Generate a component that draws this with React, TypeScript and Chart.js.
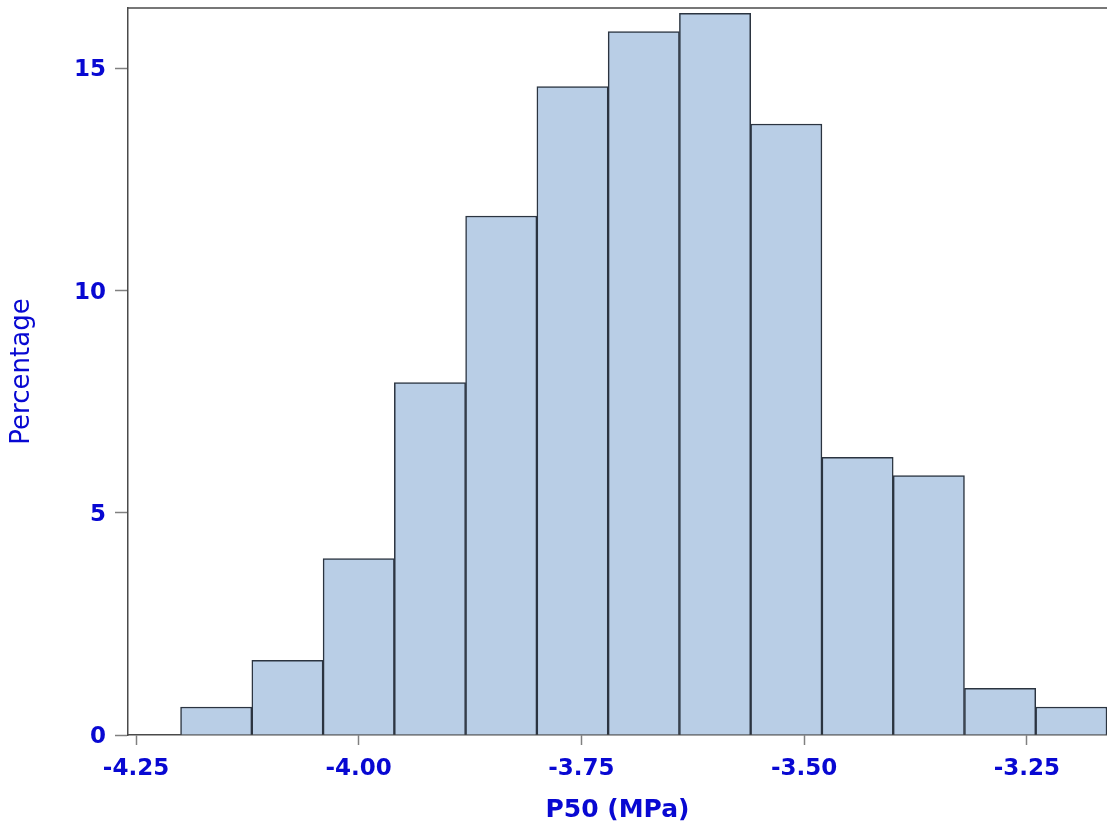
import React, { useEffect, useRef } from 'react';
import { Chart, registerables } from 'chart.js';

Chart.register(...registerables);

// Histogram bins (centres of 0.08-wide bins from -4.20 to -3.16)
const binCenters = [-4.16, -4.08, -4.0, -3.92, -3.84, -3.76, -3.68, -3.6, -3.52, -3.44, -3.36, -3.28, -3.2];
const percentages = [0.63, 1.68, 3.97, 7.93, 11.68, 14.59, 15.83, 16.24, 13.75, 6.25, 5.84, 1.05, 0.63];
const xTicks = [-4.25, -4.0, -3.75, -3.5, -3.25];
const yTicks = [0, 5, 10, 15];
const xTitle = 'P50 (MPa)';
const yTitle = 'Percentage';

const TEXT_BLUE = 'rgb(8,8,210)';
const AXIS_GRAY = '#4a4a4a';
const TICK_GRAY = '#808080';

const framePlugin = {
  id: 'frameTop',
  afterDraw(chart: any) {
    const { ctx, chartArea: a } = chart;
    ctx.save();
    ctx.strokeStyle = AXIS_GRAY;
    ctx.lineWidth = 1.5;
    ctx.beginPath();
    ctx.moveTo(a.left, a.top);
    ctx.lineTo(a.right, a.top);
    ctx.stroke();
    ctx.restore();
  },
};

export default function App() {
  const ref = useRef<HTMLCanvasElement | null>(null);

  useEffect(() => {
    if (!ref.current) return;
    const chart = new Chart(ref.current, {
      type: 'bar',
      data: {
        datasets: [
          {
            data: binCenters.map((x, i) => ({ x, y: percentages[i] })),
            backgroundColor: 'rgb(185,206,230)',
            borderColor: '#2b3440',
            borderWidth: 1.5,
            barPercentage: 1,
            categoryPercentage: 1,
          },
        ],
      },
      options: {
        animation: false,
        responsive: false,
        maintainAspectRatio: false,
        layout: { padding: { top: 8, right: 0, left: 0, bottom: 0 } },
        plugins: { legend: { display: false }, tooltip: { enabled: false } },
        scales: {
          x: {
            type: 'linear',
            offset: false,
            min: -4.259,
            max: -3.16,
            afterBuildTicks: (s: any) => {
              s.ticks = xTicks.map((v) => ({ value: v }));
            },
            afterFit: (s: any) => {
              s.height = 90;
              s.paddingLeft = 0;
              s.paddingRight = 0;
            },
            ticks: {
              color: TEXT_BLUE,
              font: { family: 'DejaVu Sans', size: 23, weight: 'bold' },
              padding: 10,
              maxRotation: 0,
              autoSkip: false,
              callback: (v: any) => Number(v).toFixed(2),
            },
            grid: {
              display: true,
              offset: false,
              drawOnChartArea: false,
              drawTicks: true,
              tickLength: 10,
              tickColor: TICK_GRAY,
              tickWidth: 1.5,
            },
            border: { display: true, color: AXIS_GRAY, width: 1.5 },
            title: {
              display: true,
              text: xTitle,
              color: TEXT_BLUE,
              font: { family: 'DejaVu Sans', size: 25, weight: 'bold' },
              padding: { top: 3, bottom: 0 },
            },
          },
          y: {
            type: 'linear',
            min: 0,
            max: 16.36,
            afterBuildTicks: (s: any) => {
              s.ticks = yTicks.map((v) => ({ value: v }));
            },
            afterFit: (s: any) => {
              s.width = 128;
              s.paddingTop = 0;
              s.paddingBottom = 0;
            },
            ticks: {
              color: TEXT_BLUE,
              font: { family: 'DejaVu Sans', size: 23, weight: 'bold' },
              padding: 9,
              labelOffset: 2,
              callback: (v: any) => String(v),
            },
            grid: {
              display: true,
              drawOnChartArea: false,
              drawTicks: true,
              tickLength: 13,
              tickColor: TICK_GRAY,
              tickWidth: 1.5,
            },
            border: { display: true, color: AXIS_GRAY, width: 1.5 },
            title: {
              display: true,
              text: yTitle,
              color: TEXT_BLUE,
              font: { family: 'DejaVu Sans', size: 26, weight: 'normal' },
              padding: { top: 7, bottom: 0 },
            },
          },
        },
      },
      plugins: [framePlugin],
    } as any);
    return () => chart.destroy();
  }, []);

  return (
    <div style={{ position: 'absolute', left: 0, top: 0, width: 1107, height: 825, background: '#fff' }}>
      <canvas ref={ref} width={1107} height={825} style={{ width: 1107, height: 825, display: 'block' }} />
    </div>
  );
}
